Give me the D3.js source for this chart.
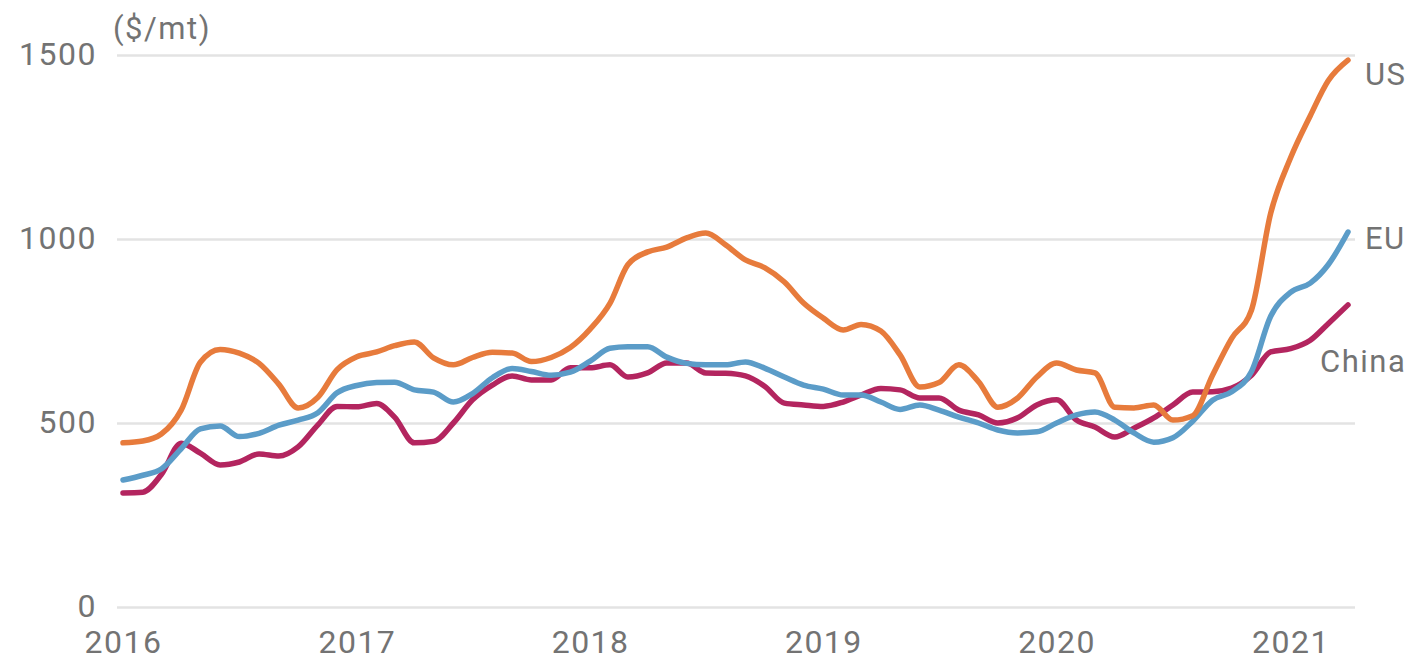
<!DOCTYPE html>
<html>
<head>
<meta charset="utf-8">
<script src="https://cdn.jsdelivr.net/npm/d3@7"></script>
<style>
    html, body { margin: 0; padding: 0; background: #fff; }
    svg text { font-family: Roboto, "Noto Sans", sans-serif; fill: #737373; letter-spacing: 1.5px; }
</style>
</head>
<body>
<svg id="chart"></svg>
<script>
    'use strict';

    // monthly, Jan 2016 - Apr 2021
    const startMonth = '2016-01';
    const usPrices = [
        446, 451, 470, 535, 665, 700, 690, 662, 605, 541, 570, 645,
        680, 693, 710, 720, 677, 658, 678, 692, 690, 667, 678, 705,
        755, 825, 930, 965, 978, 1003, 1016, 984, 943, 922, 883, 826,
        785, 753, 768, 750, 685, 598, 610, 658, 612, 543, 568, 625,
        663, 644, 636, 543, 541, 549, 508, 520, 630, 730, 807, 1070,
        1220, 1335, 1430, 1486
    ];
    const euPrices = [
        345, 358, 375, 430, 484, 492, 463, 472, 494, 508, 528, 582,
        602, 610, 611, 590, 584, 557, 580, 623, 648, 640, 630, 638,
        668, 703, 707, 707, 679, 662, 658, 658, 666, 649, 625, 603,
        592, 576, 576, 557, 537, 549, 535, 516, 500, 481, 473, 476,
        500, 522, 530, 508, 473, 448, 460, 505, 562, 585, 640, 790,
        855, 880, 930, 1019
    ];
    const chinaPrices = [
        310, 312, 360, 445, 418, 386, 394, 416, 410, 435, 495, 545,
        544, 553, 516, 446, 450, 500, 563, 603, 628, 617, 617, 650,
        650, 658, 625, 636, 663, 663, 636, 635, 628, 600, 554, 549,
        545, 557, 576, 594, 590, 568, 568, 535, 522, 500, 514, 549,
        563, 508, 489, 462, 486, 514, 549, 584, 585, 595, 630, 693,
        702, 725, 770, 821
    ];
    const seriesNames = ['China', 'EU', 'US'];
    const seriesColors = ['#b3255f', '#5b9cc8', '#e77b3c'];
    const yTicks = [0, 500, 1000, 1500];
    const xTickYears = ['2016', '2017', '2018', '2019', '2020', '2021'];
    const unitLabel = '($/mt)';

    const W = 1409, H = 661;
    const margin = { top: 55, right: 61, bottom: 54, left: 123 };
    const height = H - margin.top - margin.bottom;

    const parseMonth = d3.timeParse('%Y-%m');
    const parseYear = d3.timeParse('%Y');
    const t0 = parseMonth(startMonth);
    const months = usPrices.map((d, i) => d3.timeMonth.offset(t0, i));

    const series = [chinaPrices, euPrices, usPrices].map((vals, k) => ({
        name: seriesNames[k],
        color: seriesColors[k],
        values: vals.map((v, i) => ({ date: months[i], value: v }))
    }));

    const svg = d3.select('#chart')
        .attr('width', W)
        .attr('height', H);
    const chart = svg.append('g')
        .attr('transform', `translate(${margin.left}, ${margin.top})`);

    const xScale = d3.scaleTime()
        .domain([months[0], months[months.length - 1]])
        .range([0, 1225]);
    const yScale = d3.scaleLinear()
        .domain([0, 1500])
        .range([height, 0]);

    // gridlines + y labels
    const yAxis = d3.axisLeft(yScale)
        .tickValues(yTicks)
        .tickSize(-1238)
        .tickPadding(20)
        .tickFormat(d3.format('d'));
    const yg = chart.append('g')
        .attr('transform', 'translate(-6, 0)')
        .call(yAxis);
    yg.select('.domain').remove();
    yg.selectAll('.tick line')
        .attr('stroke', '#e3e3e3')
        .attr('stroke-width', 2.5);
    yg.selectAll('.tick text')
        .attr('dy', '0.3em')
        .style('font-size', '32px');

    const xAxis = d3.axisBottom(xScale)
        .tickValues(xTickYears.map(parseYear))
        .tickSize(0)
        .tickPadding(23)
        .tickFormat(d3.timeFormat('%Y'));
    const xg = chart.append('g')
        .attr('transform', `translate(0, ${height})`)
        .call(xAxis);
    xg.select('.domain').remove();
    xg.selectAll('.tick text')
        .attr('dy', '0.71em')
        .style('font-size', '32px');

    svg.append('text')
        .attr('x', 113)
        .attr('y', 39)
        .style('font-size', '31px')
        .text(unitLabel);

    const line = d3.line()
        .x(d => xScale(d.date))
        .y(d => yScale(d.value))
        .curve(d3.curveMonotoneX);

    chart.selectAll('.series')
        .data(series)
        .enter().append('path')
            .attr('class', 'series')
            .attr('fill', 'none')
            .attr('stroke', d => d.color)
            .attr('stroke-width', 5.5)
            .attr('stroke-linejoin', 'round')
            .attr('stroke-linecap', 'round')
            .attr('d', d => line(d.values));

    // end labels
    const labelOffsets = { US: [17, 25], EU: [17, 17], China: [-28, 67] };
    chart.selectAll('.end-label')
        .data(series)
        .enter().append('text')
            .attr('class', 'end-label')
            .attr('x', d => xScale(d.values[d.values.length - 1].date) + labelOffsets[d.name][0])
            .attr('y', d => yScale(d.values[d.values.length - 1].value) + labelOffsets[d.name][1])
            .style('font-size', '31px')
            .text(d => d.name);
</script>
</body>
</html>
